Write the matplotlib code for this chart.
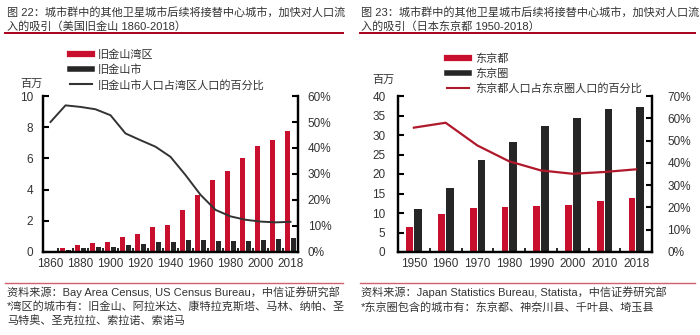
import matplotlib
matplotlib.use("Agg")
import matplotlib.pyplot as plt
from matplotlib.lines import Line2D
from matplotlib.ticker import FuncFormatter

plt.rcParams['font.family'] = ['Liberation Sans', 'Noto Sans CJK SC', 'DejaVu Sans']
plt.rcParams['font.size'] = 8
plt.rcParams['text.color'] = '#333333'
plt.rcParams['axes.unicode_minus'] = False

# 旧金山数据
sf_years = ['1860', '1870', '1880', '1890', '1900', '1910', '1920', '1930', '1940',
            '1950', '1960', '1970', '1980', '1990', '2000', '2010', '2018']
sf_bay = [0.03, 0.27, 0.43, 0.55, 0.66, 0.93, 1.16, 1.58, 1.73,
          2.68, 3.64, 4.63, 5.18, 6.02, 6.78, 7.15, 7.75]
sf_city = [0.06, 0.15, 0.23, 0.30, 0.34, 0.42, 0.51, 0.63, 0.63,
           0.78, 0.74, 0.72, 0.68, 0.72, 0.78, 0.81, 0.88]
sf_share = [50.0, 56.4, 55.8, 54.9, 52.6, 45.6, 43.0, 40.5, 36.6,
            29.6, 22.0, 16.2, 13.7, 12.4, 11.7, 11.4, 11.6]

# 东京数据
tk_years = ['1950', '1960', '1970', '1980', '1990', '2000', '2010', '2018']
tk_to = [6.3, 9.7, 11.4, 11.6, 11.9, 12.1, 13.2, 13.8]
tk_area = [11.1, 16.4, 23.6, 28.3, 32.3, 34.3, 36.6, 37.2]
tk_share = [55.8, 58.0, 47.8, 40.7, 36.6, 35.1, 35.9, 37.1]

RED = '#c8102e'
BLACK = '#262626'
W, H = 700, 335

fig = plt.figure(figsize=(7, 3.35), dpi=100)


def fx(x):
    return x / W


def fy(y):
    return 1 - y / H


def rule(x0, x1, y, color, lw):
    fig.add_artist(Line2D([fx(x0), fx(x1)], [fy(y), fy(y)], color=color, lw=lw,
                          transform=fig.transFigure))


def style_axes(ax, ax2, n, label_every, pad_l, pad_r):
    for a in (ax, ax2):
        a.spines['top'].set_visible(False)
        for s in ['left', 'right', 'bottom']:
            a.spines[s].set_linewidth(1.6)
            a.spines[s].set_color('black')
    ax.set_xlim(-0.5, n - 0.5)
    ax.set_xticks([i + 0.5 for i in range(n - 1)])
    ax.set_xticklabels([])
    ax.tick_params(axis='x', which='major', direction='in', length=3, width=1.2)
    ax.set_xticks(range(0, n, label_every), minor=True)
    ax.tick_params(axis='x', which='minor', length=0, pad=4, labelsize=8.5, labelcolor='#333333')
    ax.tick_params(axis='y', direction='in', length=4, width=1.5, pad=pad_l, labelsize=8.5,
                   labelcolor='#333333')
    ax2.tick_params(axis='y', direction='in', length=4, width=1.5, pad=pad_r, labelsize=8.5,
                    labelcolor='#333333')
    ax2.yaxis.set_major_formatter(FuncFormatter(lambda v, p: f'{v:.0f}%'))


# ---------- 左图：旧金山 ----------
fig.text(fx(7), fy(12), '图 22：城市群中的其他卫星城市后续将接替中心城市，加快对人口流',
         fontsize=8, va='center', ha='left')
fig.text(fx(7), fy(26), '入的吸引（美国旧金山 1860-2018）', fontsize=8, va='center', ha='left')
rule(5, 343, 33, '#a8001c', 1.4)

ax1 = fig.add_axes([fx(43), fy(252), fx(298) - fx(43), fy(96) - fy(252)])
ax1b = ax1.twinx()
x1 = range(len(sf_years))
ax1.bar([i - 0.2 for i in x1], sf_bay, width=0.32, color=RED, zorder=2)
ax1.bar([i + 0.2 for i in x1], sf_city, width=0.27, color=BLACK, zorder=2)
ax1b.plot(list(x1), sf_share, color='#333333', lw=1.4)
ax1.set_ylim(0, 10)
ax1.set_yticks(range(0, 11, 2))
ax1b.set_ylim(0, 60)
ax1b.set_yticks(range(0, 61, 10))
style_axes(ax1, ax1b, len(sf_years), 2, 7, 7)
ax1.set_xticklabels(sf_years[::2], minor=True)
fig.text(fx(31), fy(84), '百万', fontsize=8, ha='center', va='center')

h1 = [Line2D([], [], color=RED, lw=4.5), Line2D([], [], color=BLACK, lw=4),
      Line2D([], [], color='#333333', lw=1.5)]
fig.legend(h1, ['旧金山湾区', '旧金山市', '旧金山市人口占湾区人口的百分比'],
           loc='upper left', bbox_to_anchor=(fx(68), fy(47)), frameon=False,
           handlelength=2.0, handletextpad=0.5, labelspacing=0.42, fontsize=8,
           borderaxespad=0, borderpad=0.2)

rule(5, 343, 283, '#d06070', 1.0)
fig.text(fx(7), fy(292), '资料来源：Bay Area Census, US Census Bureau，中信证券研究部',
         fontsize=8, va='center')
fig.text(fx(7), fy(306), '*湾区的城市有：旧金山、阿拉米达、康特拉克斯塔、马林、纳帕、圣',
         fontsize=8, va='center')
fig.text(fx(7), fy(320), '马特奥、圣克拉拉、索拉诺、索诺马', fontsize=8, va='center')

# ---------- 右图：东京 ----------
fig.text(fx(361), fy(12), '图 23：城市群中的其他卫星城市后续将接替中心城市，加快对人口流',
         fontsize=8, va='center', ha='left')
fig.text(fx(361), fy(26), '入的吸引（日本东京都 1950-2018）', fontsize=8, va='center', ha='left')
rule(360, 695, 33, '#a8001c', 1.4)

ax2 = fig.add_axes([fx(398), fy(252), fx(652) - fx(398), fy(96) - fy(252)])
ax2b = ax2.twinx()
x2 = range(len(tk_years))
ax2.bar([i - 0.13 for i in x2], tk_to, width=0.22, color=RED, zorder=2)
ax2.bar([i + 0.13 for i in x2], tk_area, width=0.24, color=BLACK, zorder=2)
ax2b.plot(list(x2), tk_share, color='#b0182c', lw=1.6)
ax2.set_ylim(0, 40)
ax2.set_yticks(range(0, 41, 5))
ax2b.set_ylim(0, 70)
ax2b.set_yticks(range(0, 71, 10))
style_axes(ax2, ax2b, len(tk_years), 1, 9, 11)
ax2.set_xticklabels(tk_years, minor=True)
fig.text(fx(383), fy(80), '百万', fontsize=8, ha='center', va='center')

h2 = [Line2D([], [], color=RED, lw=4.5), Line2D([], [], color=BLACK, lw=4),
      Line2D([], [], color='#b0182c', lw=1.5)]
fig.legend(h2, ['东京都', '东京圈', '东京都人口占东京圈人口的百分比'],
           loc='upper left', bbox_to_anchor=(fx(445), fy(51)), frameon=False,
           handlelength=2.0, handletextpad=0.5, labelspacing=0.42, fontsize=8,
           borderaxespad=0, borderpad=0.2)

rule(360, 695, 283, '#d06070', 1.0)
fig.text(fx(361), fy(292), '资料来源：Japan Statistics Bureau, Statista，中信证券研究部',
         fontsize=8, va='center')
fig.text(fx(361), fy(307), '*东京圈包含的城市有：东京都、神奈川县、千叶县、埼玉县',
         fontsize=8, va='center')

fig.savefig('out.png', dpi=100, facecolor='white')
